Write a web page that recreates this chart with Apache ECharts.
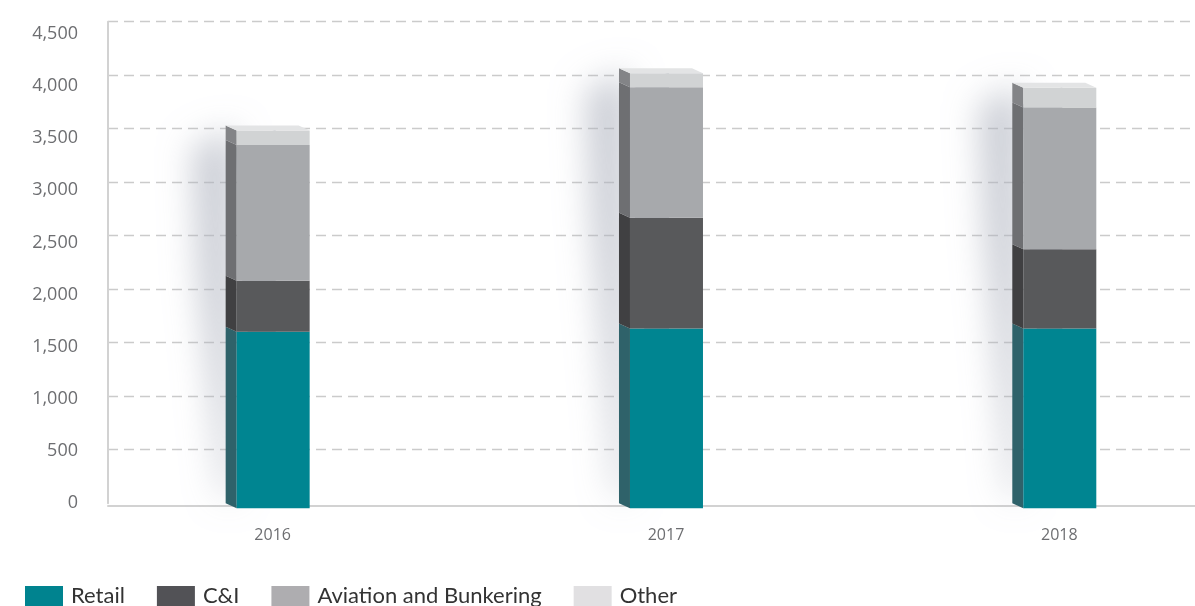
<!DOCTYPE html>
<html>
<head>
<meta charset="utf-8">
<script src="https://cdn.jsdelivr.net/npm/echarts@6/dist/echarts.min.js"></script>
<style>
html,body{margin:0;padding:0;background:#fff;}
#chart{width:1195px;height:606px;}
</style>
</head>
<body>
<div id="chart"></div>
<script>
// ---- data ----
var categories = ['2016', '2017', '2018'];
var retail = [1650, 1680, 1680];
var ci = [475, 1035, 740];
var aviation = [1270, 1220, 1325];
var other = [135, 130, 185];
var seriesNames = ['Retail', 'C&I', 'Aviation and Bunkering', 'Other'];
var yTicks = [0, 500, 1000, 1500, 2000, 2500, 3000, 3500, 4000, 4500];

// ---- styles ----
var frontColors = ['#008591', '#58595b', '#a7a9ac', '#d1d3d4'];
var sideColors = ['#2f626a', '#404042', '#6e6f72', '#838487'];
var legendColors = ['#00838f', '#525256', '#aeadb0', '#e1e0e2'];
var topColor = '#e3e4e5';
var DX = 11, DY = 5, HALF_L = 36, HALF_R = 37;

var stacks = [retail, ci, aviation, other];
function buildSeg(k) {
  var out = [];
  for (var i = 0; i < categories.length; i++) {
    var base = 0;
    for (var j = 0; j < k; j++) base += stacks[j][i];
    out.push([i, base, base + stacks[k][i]]);
  }
  return out;
}
var totals = categories.map(function (c, i) {
  return retail[i] + ci[i] + aviation[i] + other[i];
});

function segRenderer(k) {
  return function (params, api) {
    var pBot = api.coord([api.value(0), api.value(1)]);
    var pTop = api.coord([api.value(0), api.value(2)]);
    var cx = pBot[0];
    var fx0 = cx - HALF_L, fx1 = cx + HALF_R;
    var fyT = pTop[1] + DY, fyB = pBot[1] + DY;
    var children = [
      { type: 'polygon', shape: { points: [[fx0, fyT], [fx0, fyB], [fx0 - DX, fyB - DY], [fx0 - DX, fyT - DY]] },
        style: { fill: sideColors[k] } },
      { type: 'rect', shape: { x: fx0, y: fyT, width: fx1 - fx0, height: fyB - fyT },
        style: { fill: frontColors[k] } }
    ];
    if (k === stacks.length - 1) {
      children.push({ type: 'polygon',
        shape: { points: [[fx0 - DX, fyT - DY], [fx1 - DX, fyT - DY], [fx1, fyT], [fx0, fyT]] },
        style: { fill: topColor } });
    }
    return { type: 'group', children: children };
  };
}

// soft glow left of each bar: a hidden wedge behind the bar casts its shadow to the left
function shadowRenderer(params, api) {
  var pBot = api.coord([api.value(0), 0]);
  var pTop = api.coord([api.value(0), api.value(1)]);
  var bx = pBot[0] - HALF_L - DX;
  var top = pTop[1], bot = pBot[1];
  var W = 42;
  var pts = [[bx + 8, top + 4], [bx - 32, top + 22], [bx - 26, top + 150], [bx - 3, bot - 10], [bx + 8, bot - 4]];
  return {
    type: 'polygon',
    shape: { points: pts.map(function (p) { return [p[0] + W, p[1]]; }) },
    style: { fill: '#c4c7ce', shadowBlur: 34, shadowColor: 'rgba(172,177,188,0.68)', shadowOffsetX: -W }
  };
}

var series = [{
  type: 'custom', xAxisIndex: 1, yAxisIndex: 1, z: 1, silent: true,
  data: categories.map(function (c, i) { return [i, totals[i]]; }),
  renderItem: shadowRenderer
}];
for (var k = 0; k < stacks.length; k++) {
  series.push({
    type: 'custom', name: seriesNames[k], xAxisIndex: 1, yAxisIndex: 1, z: 5,
    itemStyle: { color: legendColors[k] },
    data: buildSeg(k),
    renderItem: segRenderer(k)
  });
}

var chart = echarts.init(document.getElementById('chart'), null, { renderer: 'canvas' });
chart.setOption({
  animation: false,
  backgroundColor: '#ffffff',
  grid: [
    { left: 108, right: 0, top: 21.7, bottom: 102.8 },
    { left: 76, right: 0, top: 21.7, bottom: 102.8 },
    { left: 108, right: 0, top: 34, bottom: 103 }
  ],
  legend: {
    data: seriesNames, left: 25, top: 585, padding: 0, itemWidth: 38, itemHeight: 20, itemGap: 32,
    icon: 'rect',
    textStyle: { fontFamily: 'Lato', fontSize: 22, color: '#333333', padding: [0, 0, 0, 3] }
  },
  xAxis: [
    { gridIndex: 0, type: 'category', data: categories, offset: 3,
      axisLine: { show: true, onZero: false, lineStyle: { color: '#d2d2d2', width: 2 } },
      axisTick: { show: false }, axisLabel: { show: false }, splitLine: { show: false } },
    { gridIndex: 1, type: 'value', min: -0.5, max: 2.345,
      axisLine: { show: false }, axisTick: { show: false }, splitLine: { show: false },
      axisLabel: { margin: 24, fontFamily: 'Open Sans', fontSize: 16, color: '#6d6e71',
        customValues: [0, 1, 2],
        formatter: function (v) { return categories[Math.round(v)] || ''; } } },
    { gridIndex: 2, type: 'category', data: categories, show: false }
  ],
  yAxis: [
    { gridIndex: 0, type: 'value', min: 0, max: 4500, interval: 500,
      axisLine: { show: true, lineStyle: { color: '#d2d2d2', width: 2 } },
      axisTick: { show: false }, axisLabel: { show: false },
      splitLine: { show: true, showMinLine: false, lineStyle: { color: '#cbcbcb', type: [10, 6], width: 1.3 } } },
    { gridIndex: 1, type: 'value', min: 0, max: 4500, interval: 500, show: false },
    { gridIndex: 2, type: 'value', min: 0, max: 4500, interval: 500,
      axisLine: { show: false }, axisTick: { show: false }, splitLine: { show: false },
      axisLabel: { margin: 30, fontFamily: 'Open Sans', fontSize: 18, color: '#6d6e71',
        formatter: function (v) { return yTicks.indexOf(v) >= 0 ? v.toLocaleString('en-US') : ''; } } }
  ],
  series: series
});
</script>
</body>
</html>
